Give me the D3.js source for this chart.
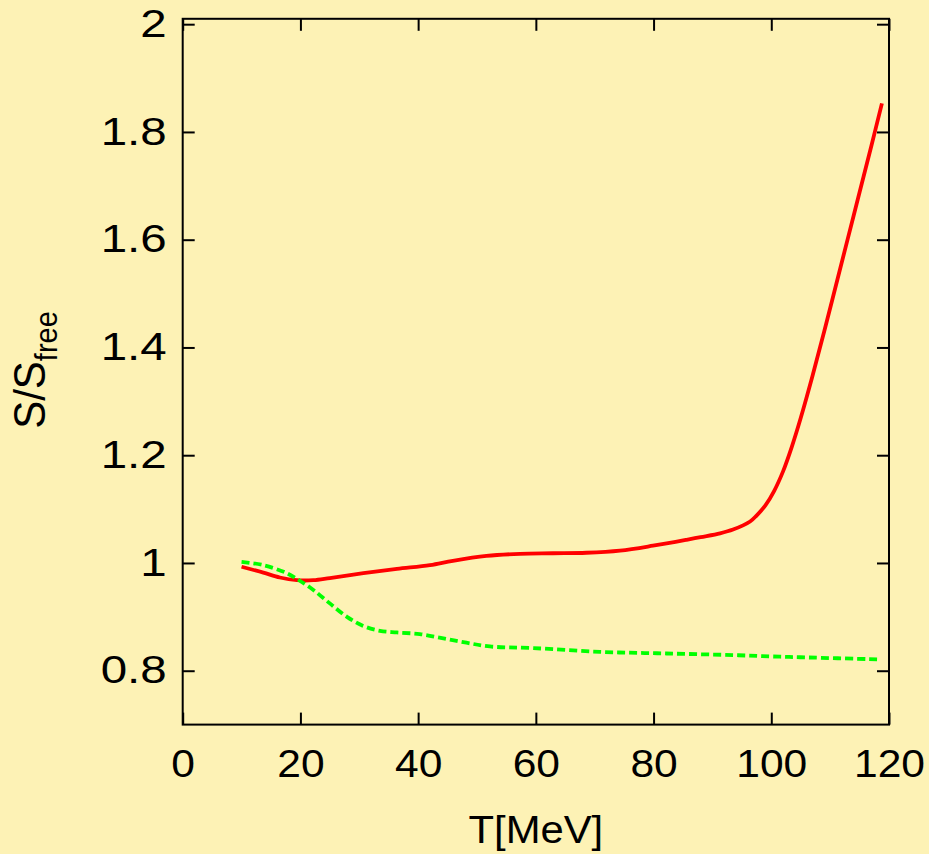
<!DOCTYPE html>
<html>
<head>
<meta charset="utf-8">
<script src="https://cdn.jsdelivr.net/npm/d3@7/dist/d3.min.js"></script>
<style>
  html, body { margin: 0; padding: 0; background: #fdf2b5; }
  svg { display: block; }
  text { font-family: "Liberation Sans", Arial, sans-serif; fill: #000; }
</style>
</head>
<body>
<svg id="chart" width="929" height="854"></svg>
<script>
// Entropy ratio S/S_free versus temperature
const redT = [10, 13.7, 16.5, 19.4, 22.2, 25, 30.7, 36.4, 42, 45.9, 51.6, 57.3, 62.9, 68.6, 74.3, 79.9, 85.6, 88, 91.3, 93.5, 96.4, 97.5, 99, 100.5, 102, 103.5, 105, 107, 109, 111, 113, 115, 117, 118.8];
const redS = [0.993, 0.982, 0.973, 0.968, 0.968, 0.972, 0.981, 0.989, 0.996, 1.004, 1.013, 1.017, 1.018, 1.019, 1.023, 1.032, 1.043, 1.048, 1.055, 1.062, 1.077, 1.088, 1.107, 1.134, 1.170, 1.216, 1.269, 1.347, 1.430, 1.516, 1.602, 1.688, 1.774, 1.853];

const greenT = [10, 13.7, 17.7, 19.9, 22.2, 25, 27.9, 30.7, 33.5, 36.4, 40.3, 44.3, 48.2, 52.2, 59.6, 70.9, 82.2, 93.5, 101.5, 104.9, 118.5];
const greenS = [1.002, 0.996, 0.981, 0.967, 0.950, 0.925, 0.900, 0.883, 0.874, 0.871, 0.868, 0.860, 0.852, 0.845, 0.842, 0.835, 0.832, 0.829, 0.826, 0.825, 0.821];

const xTicks = [0, 20, 40, 60, 80, 100, 120];
const yTicks = [0.8, 1, 1.2, 1.4, 1.6, 1.8, 2];
const yTickLabels = ["0.8", "1", "1.2", "1.4", "1.6", "1.8", "2"];

const svg = d3.select("#chart");
const W = 929, H = 854;
const m = { left: 182.7, top: 18.8, right: 40, bottom: 129.4 };
const iw = W - m.left - m.right, ih = H - m.top - m.bottom;

const x = d3.scaleLinear().domain([0, 120]).range([m.left, m.left + iw]);
const y = d3.scaleLinear().domain([0.7, 2.01]).range([m.top + ih, m.top]);

const fs = 38;      // label font size
const sxY = 1.25;   // horizontal widening of the y tick glyphs
const sxX = 1.12;   // horizontal widening of the x tick glyphs

// axes with inward ticks on all four sides
const axLeft = d3.axisLeft(y).tickValues(yTicks).tickSizeInner(-12).tickSizeOuter(0)
  .tickFormat((d, i) => yTickLabels[i]);
const axRight = d3.axisRight(y).tickValues(yTicks).tickSizeInner(-12).tickSizeOuter(0).tickFormat("");
const axBottom = d3.axisBottom(x).tickValues(xTicks).tickSizeInner(-12).tickSizeOuter(0).tickPadding(25.4);
const axTop = d3.axisTop(x).tickValues(xTicks).tickSizeInner(-12).tickSizeOuter(0).tickFormat("");

function style(g) {
  g.select(".domain").remove();
  g.selectAll(".tick line").attr("stroke", "#000").attr("stroke-width", 2);
  g.selectAll(".tick text").attr("font-size", fs).attr("font-family", "Liberation Sans, Arial, sans-serif").attr("fill", "#000");
}

svg.append("g").attr("transform", `translate(${m.left},0)`).call(axLeft).call(style)
  .selectAll(".tick text").attr("x", -16 / sxY).attr("transform", `scale(${sxY},1)`);
svg.append("g").attr("transform", `translate(${m.left + iw},0)`).call(axRight).call(style);
svg.append("g").attr("transform", `translate(0,${m.top + ih})`).call(axBottom).call(style)
  .selectAll(".tick text").attr("transform", `scale(${sxX},1)`);
svg.append("g").attr("transform", `translate(0,${m.top})`).call(axTop).call(style);

// frame
svg.append("rect")
  .attr("x", m.left).attr("y", m.top).attr("width", iw).attr("height", ih)
  .attr("fill", "none").attr("stroke", "#000").attr("stroke-width", 2);

const line = d3.line().curve(d3.curveCatmullRom.alpha(0.5)).x(d => x(d[0])).y(d => y(d[1]));

svg.append("path")
  .datum(d3.zip(redT, redS))
  .attr("d", line)
  .attr("fill", "none").attr("stroke", "#ff0000").attr("stroke-width", 3.8)
  .attr("stroke-linejoin", "round");

svg.append("path")
  .datum(d3.zip(greenT, greenS))
  .attr("d", line)
  .attr("fill", "none").attr("stroke", "#00ff00").attr("stroke-width", 3.8)
  .attr("stroke-dasharray", "8,4");

// axis titles
svg.append("text")
  .attr("transform", `translate(${x(60)},843) scale(1.1,1)`)
  .attr("text-anchor", "middle").attr("font-size", fs)
  .text("T[MeV]");

const yl = svg.append("text")
  .attr("transform", `translate(45,370) scale(1.07,1) rotate(-90)`)
  .attr("text-anchor", "middle").attr("font-size", 42);
yl.append("tspan").text("S/S");
yl.append("tspan").attr("font-size", 29).attr("dy", 11).text("free");
</script>
</body>
</html>
